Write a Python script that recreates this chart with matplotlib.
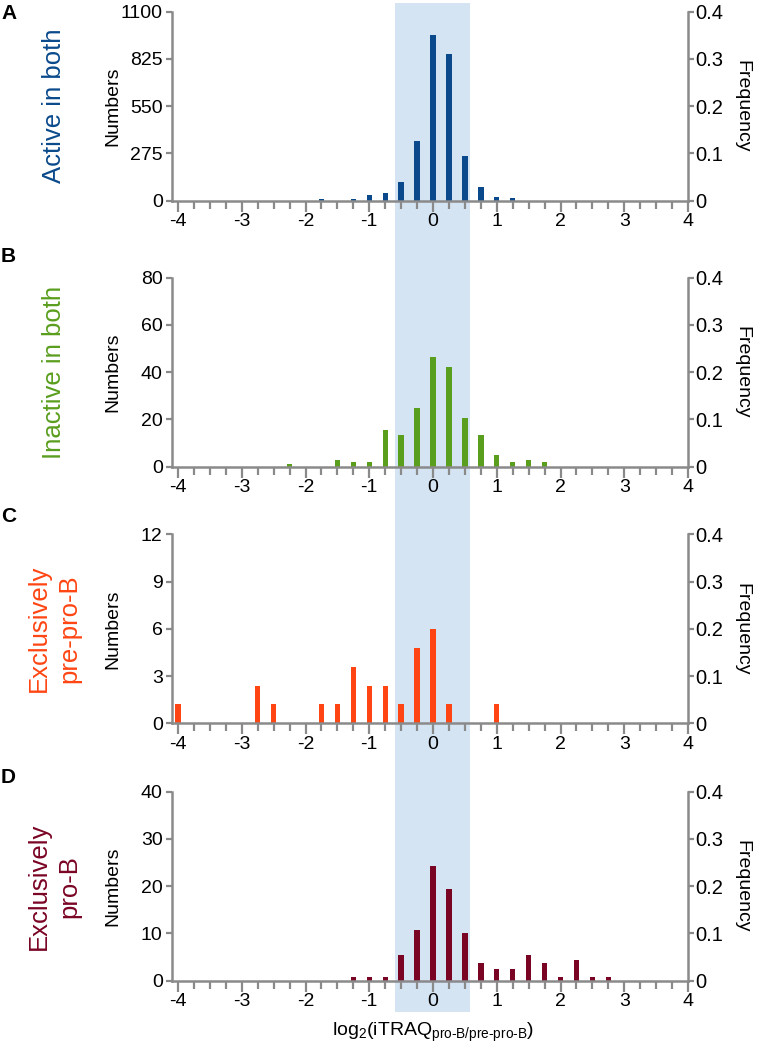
import matplotlib
matplotlib.use("Agg")
import matplotlib.pyplot as plt
import numpy as np

plt.rcParams['font.family'] = ['Liberation Sans', 'DejaVu Sans']
plt.rcParams['mathtext.fontset'] = 'custom'
plt.rcParams['mathtext.rm'] = 'Liberation Sans'
plt.rcParams['mathtext.it'] = 'Liberation Sans:italic'
plt.rcParams['axes.unicode_minus'] = False

# data (bar centres on log2 scale, heights in "Numbers" units)
x_active = [-1.75, -1.25, -1.0, -0.75, -0.5, -0.25, 0, 0.25, 0.5, 0.75, 1.0, 1.25]
h_active = [11, 12, 33, 43, 110, 349, 965, 854, 260, 81, 21, 13]

x_inactive = [-2.25, -1.5, -1.25, -1.0, -0.75, -0.5, -0.25, 0, 0.25, 0.5, 0.75, 1.0, 1.25, 1.5, 1.75]
h_inactive = [1, 2.7, 2, 2, 15.5, 13.4, 25, 46.6, 42.3, 20.6, 13.4, 4.8, 2, 2.7, 2]

x_prepro = [-4, -2.75, -2.5, -1.75, -1.5, -1.25, -1.0, -0.75, -0.5, -0.25, 0, 0.25, 1.0]
h_prepro = [1.2, 2.4, 1.2, 1.2, 1.2, 3.6, 2.4, 2.4, 1.2, 4.8, 6.0, 1.2, 1.2]

x_pro = [-1.25, -1.0, -0.75, -0.5, -0.25, 0, 0.25, 0.5, 0.75, 1.0, 1.25, 1.5, 1.75, 2.0, 2.25, 2.5, 2.75]
h_pro = [0.7, 0.7, 0.7, 5.5, 10.8, 24.2, 19.5, 10.1, 3.7, 2.5, 2.5, 5.4, 3.7, 0.7, 4.3, 0.7, 0.7]

left_ticks = [[0, 275, 550, 825, 1100], [0, 20, 40, 60, 80], [0, 3, 6, 9, 12], [0, 10, 20, 30, 40]]
freq_ticks = [0, 0.1, 0.2, 0.3, 0.4]
freq_labels = ['0', '0.1', '0.2', '0.3', '0.4']
x_major = [-4, -3, -2, -1, 0, 1, 2, 3, 4]

titles = ['Active in both', 'Inactive in both', 'Exclusively\npre-pro-B', 'Exclusively\npro-B']
letters = ['A', 'B', 'C', 'D']
colors = ['#0a4a8c', '#5a9e1e', '#ff4513', '#7a0424']
band = (-0.6, 0.585)

W, H = 757, 1050
gray = '#8a8a8a'
xlim = (-4.1, 4.0)
ax_left, ax_right = 171.7, 688.0
panel_top = [11.7, 277.7, 534.3, 791.7]
panel_h = 189.0
letter_top = [4, 247, 507, 768]

fig = plt.figure(figsize=(W / 100, H / 100), dpi=100)

# shaded band behind all panels
bg = fig.add_axes([ax_left / W, 1 - 1012 / H, (ax_right - ax_left) / W, (1012 - 3) / H])
bg.set_xlim(xlim)
bg.axvspan(band[0], band[1], color='#d5e4f3', lw=0)
bg.axis('off')
bg.set_zorder(0)

data = [(x_active, h_active), (x_inactive, h_inactive), (x_prepro, h_prepro), (x_pro, h_pro)]

for i, (xs, hs) in enumerate(data):
    top = panel_top[i]
    ax = fig.add_axes([ax_left / W, 1 - (top + panel_h) / H, (ax_right - ax_left) / W, panel_h / H])
    ax.set_zorder(1)
    ax.patch.set_alpha(0)
    ax.bar(xs, hs, width=0.085, color=colors[i], lw=0)
    ax.set_xlim(xlim)
    ax.set_ylim(0, left_ticks[i][-1])
    ax.set_yticks(left_ticks[i])
    ax.set_xticks(x_major)
    ax.set_xticks(np.arange(-4, 4.01, 0.25), minor=True)
    for s in ['top', 'right']:
        ax.spines[s].set_visible(False)
    for s in ['left', 'bottom']:
        ax.spines[s].set_color(gray)
        ax.spines[s].set_linewidth(1.8)
    ax.tick_params(axis='x', which='major', length=8, width=1.6, color=gray, pad=1, labelsize=14)
    ax.tick_params(axis='x', which='minor', length=5.5, width=1.6, color=gray)
    ax.tick_params(axis='y', length=4, width=1.6, color=gray, pad=2.5, labelsize=14)

    ax2 = ax.twinx()
    ax2.set_ylim(0, 0.4)
    ax2.set_yticks(freq_ticks)
    ax2.set_yticklabels(freq_labels)
    for s in ['top', 'left', 'bottom']:
        ax2.spines[s].set_visible(False)
    ax2.spines['right'].set_color(gray)
    ax2.spines['right'].set_linewidth(1.8)
    ax2.tick_params(axis='y', length=4, width=1.6, color=gray, pad=1.5, labelsize=14.5)

    yc = 1 - (top + panel_h / 2) / H
    fig.text(113 / W, yc, 'Numbers', rotation=90, ha='center', va='center', fontsize=14)
    fig.text(742 / W, yc, 'Frequency', rotation=270, ha='center', va='center', fontsize=14)
    fig.text(54 / W, yc, titles[i], rotation=90, ha='center', va='center', fontsize=18.5,
             color=colors[i], linespacing=1.3)
    fig.text(1 / W, 1 - letter_top[i] / H, letters[i], ha='left', va='top', fontsize=15,
             fontweight='bold')

fig.text(433 / W, 1 - 1032 / H, r'log$_\mathrm{2}$(iTRAQ$_{\text{pro-B/pre-pro-B}}$)',
         ha='center', va='center', fontsize=14)

fig.savefig('out.png', dpi=100)
